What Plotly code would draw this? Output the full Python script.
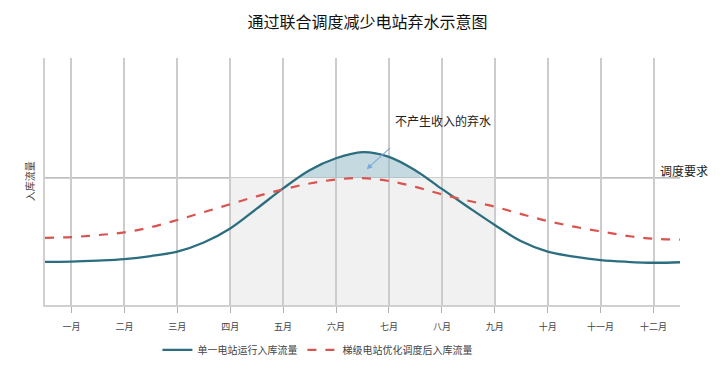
import plotly.graph_objects as go

# ---- data ----
month_labels = ["一月", "二月", "三月", "四月", "五月", "六月",
                "七月", "八月", "九月", "十月", "十一月", "十二月"]
month_ticks = [1, 2, 3, 4, 5, 6, 7, 8, 9, 10, 11, 12]

x_pts = [0.5, 1, 1.5, 2, 2.5, 3, 3.5, 4, 4.5, 5, 5.5, 6, 6.5, 7, 7.5,
         8, 8.5, 9, 9.5, 10, 10.5, 11, 11.5, 12, 12.5]
single_station = [17.5, 17.6, 18.0, 18.6, 19.8, 21.6, 25.3, 31.0, 39.0, 47.2,
                  54.6, 59.4, 61.9, 60.0, 54.5, 47.0, 39.6, 32.4, 25.8, 21.6,
                  19.6, 18.2, 17.5, 17.1, 17.3]
cascade_station = [27.2, 27.5, 28.3, 29.4, 31.5, 34.4, 37.6, 40.8, 44.0, 46.8,
                   49.2, 50.8, 51.4, 50.2, 47.8, 44.8, 42.2, 39.8, 36.8, 34.0,
                   31.7, 29.8, 28.0, 26.8, 26.5]

requirement = 51.5
spill_x = [5.28, 5.5, 6, 6.5, 7, 7.5, 7.62]
spill_y = [51.5, 54.6, 59.4, 61.9, 60.0, 54.5, 51.5]
gray_band = [4, 9]

FONT = "Noto Sans CJK SC"
BLUE = "#2c6e7f"
RED = "#d9534f"

fig = go.Figure()

# spill fill (between requirement line and single-station curve)
fig.add_trace(go.Scatter(x=[spill_x[0], spill_x[-1]], y=[requirement, requirement],
                         mode="lines", line=dict(width=0), showlegend=False,
                         hoverinfo="skip"))
fig.add_trace(go.Scatter(x=spill_x, y=spill_y, mode="lines", line=dict(width=0, shape="spline"),
                         fill="tonexty", fillcolor="rgba(150,185,200,0.55)",
                         showlegend=False, hoverinfo="skip"))

fig.add_trace(go.Scatter(x=x_pts, y=single_station, mode="lines",
                         name="单一电站运行入库流量",
                         line=dict(color=BLUE, width=2.3, shape="spline")))
fig.add_trace(go.Scatter(x=x_pts, y=cascade_station, mode="lines",
                         name="梯级电站优化调度后入库流量",
                         line=dict(color=RED, width=2.2, dash="dash", shape="spline")))

# gray band below requirement line
fig.add_shape(type="rect", xref="x", yref="y", x0=gray_band[0], x1=gray_band[1],
              y0=0, y1=requirement, fillcolor="#f1f1f1", line=dict(width=0), layer="below")
# requirement line
fig.add_shape(type="line", xref="paper", yref="y", x0=0, x1=1,
              y0=requirement, y1=requirement, line=dict(color="#a8a8a8", width=1.2),
              layer="between")

fig.add_annotation(x=6.58, y=55.0, ax=7.05, ay=64.2, xref="x", yref="y",
                   axref="x", ayref="y", text="", showarrow=True,
                   arrowhead=2, arrowsize=1, arrowwidth=1.1, arrowcolor="#7aaadc")
fig.add_annotation(x=7.07, y=74.6, xref="x", yref="y", text="不产生收入的弃水",
                   showarrow=False, xanchor="left", yanchor="middle",
                   font=dict(family=FONT, size=12, color="#222"))
fig.add_annotation(x=12.08, y=54.4, xref="x", yref="y", text="调度要求",
                   showarrow=False, xanchor="left", yanchor="middle",
                   font=dict(family=FONT, size=12, color="#222"))
# y-axis title
fig.add_annotation(x=-0.024, y=0.5, xref="paper", yref="paper", text="入库流量",
                   textangle=-90, showarrow=False, xanchor="center", yanchor="middle",
                   font=dict(family=FONT, size=10, color="#444"))

# the page body adds an 8px offset; margins compensate for it
fig.update_layout(
    width=722, height=370,
    margin=dict(l=37, r=50, t=50, b=73, autoexpand=False),
    paper_bgcolor="white", plot_bgcolor="white",
    title=dict(text="通过联合调度减少电站弃水示意图", x=0.498, xanchor="center",
               y=0.962, yanchor="middle",
               font=dict(family=FONT, size=16, color="#111")),
    font=dict(family=FONT),
    xaxis=dict(range=[0.5, 12.5], tickvals=month_ticks, ticktext=month_labels,
               showgrid=True, gridcolor="#cccccc", gridwidth=1.5,
               showline=True, linecolor="#d0d0d0", linewidth=2,
               ticks="outside", ticklen=6, tickcolor="#b0b0b0", tickwidth=1.2,
               ticklabelstandoff=6, automargin=False,
               tickfont=dict(family=FONT, size=9, color="#444"),
               zeroline=False, fixedrange=True),
    yaxis=dict(range=[0, 100], showticklabels=False, showgrid=False,
               showline=True, linecolor="#d0d0d0", linewidth=2,
               zeroline=False, ticks="", automargin=False),
    legend=dict(orientation="h", x=0.429, xanchor="center", y=-0.182, yanchor="middle",
                traceorder="normal",
                font=dict(family=FONT, size=10, color="#444"),
                itemwidth=30, bgcolor="rgba(0,0,0,0)"),
    showlegend=True,
)

fig.write_html("out.html")
